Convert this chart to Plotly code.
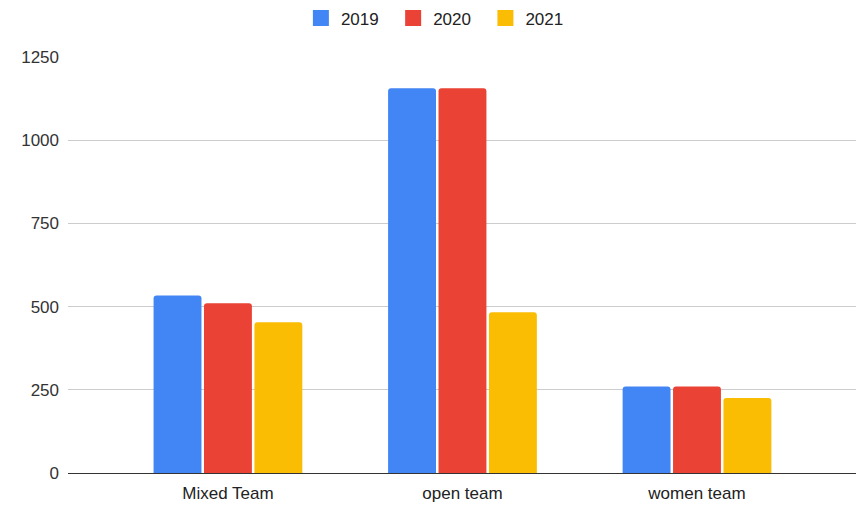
import plotly.graph_objects as go

categories = ["Mixed Team", "open team", "women team"]
series_names = ["2019", "2020", "2021"]
values_2019 = [533, 1156, 260]
values_2020 = [510, 1156, 260]
values_2021 = [453, 483, 225]
colors = ["#4285F4", "#EA4335", "#FBBC04"]
y_ticks = [0, 250, 500, 750, 1000, 1250]

fig = go.Figure()
for name, vals, col in zip(series_names, [values_2019, values_2020, values_2021], colors):
    fig.add_trace(go.Bar(
        x=categories, y=vals, name=name, showlegend=False,
        marker=dict(color=col, line=dict(color="white", width=0)),
    ))
# legend entries with square swatches
for name, col in zip(series_names, colors):
    fig.add_trace(go.Scatter(
        x=[None], y=[None], mode="markers", name=name + "\u00a0\u00a0",
        marker=dict(symbol="square", size=16, color=col),
    ))

fig.update_layout(
    width=856, height=512,
    margin=dict(l=68, r=0, t=57, b=39, autoexpand=False),
    paper_bgcolor="white", plot_bgcolor="white",
    font=dict(family="Liberation Sans, Arial, sans-serif", size=17, color="#222222"),
    barmode="group", bargap=0.355, bargroupgap=0.05, barcornerradius=3,
    legend=dict(orientation="h", x=0.3515, xanchor="left", xref="container",
                y=0.999, yanchor="top", yref="container",
                font=dict(size=17, color="#222222"),
                itemwidth=30, traceorder="normal"),
    showlegend=True,
)
fig.update_xaxes(range=[-0.682, 2.678], showgrid=False, showline=True,
                 linecolor="#333333", linewidth=1, ticks="",
                 tickfont=dict(size=17, color="#222222"), ticklabelstandoff=5)
fig.update_yaxes(range=[0, 1250], tickvals=y_ticks, showgrid=True, gridcolor="#cccccc",
                 zeroline=False, ticks="", tickfont=dict(size=17, color="#333333"),
                 ticklabelstandoff=8)

fig.write_html("out.html", config={"displayModeBar": False},
               post_script="document.body.style.margin='0';")
